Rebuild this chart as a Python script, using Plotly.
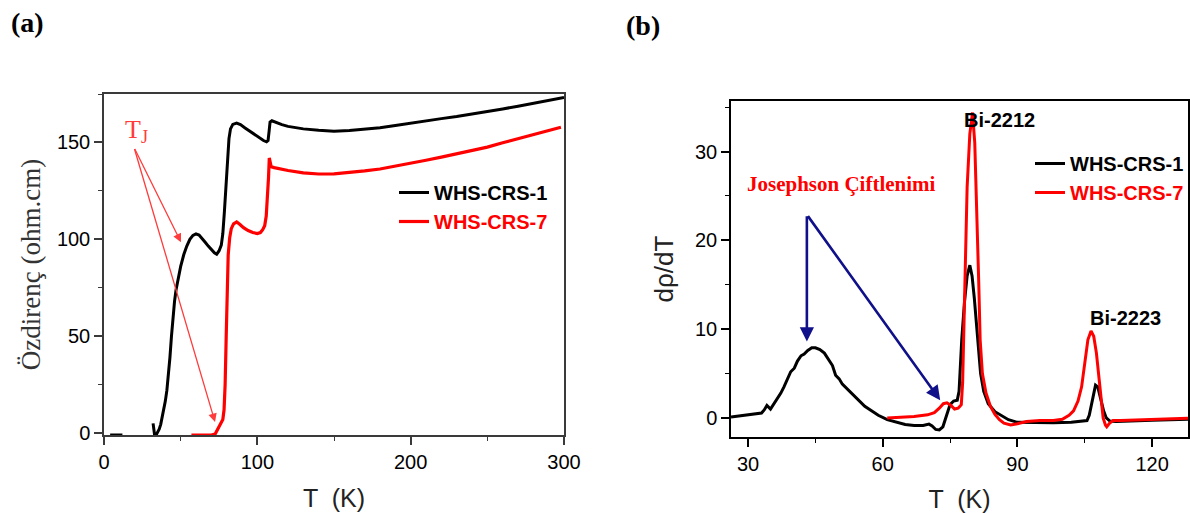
import plotly.graph_objects as go

# ---------------- data: panel (a) resistivity vs temperature ----------------
T_a1 = [4, 12, None, 32, 32.5, 33, 34, 35, 36, 37, 38, 39, 40, 41, 42, 43, 44, 45, 46, 47, 48, 49, 50,
        51, 52, 54, 56, 58, 60, 62, 64, 66, 68, 70, 72, 73.5, 75, 76.5, 77.5, 78.5, 79.5, 80.5, 81.5,
        82.5, 84, 86.5, 89, 92, 95, 98, 101, 104, 106, 107, 107.7, 108.3, 109.5, 112, 116, 120, 125,
        130, 140, 150, 160, 170, 180, 190, 200, 210, 220, 230, 240, 250, 260, 270, 280, 290, 300]
R_a1 = [-1, -1, None, 5, 0, -1, -1, 0.5, 2, 4.5, 8, 12, 16.5, 22, 30, 39, 50, 60, 68, 74, 78.5, 82.5, 86,
        89, 92, 96.5, 100, 102, 102.8, 102.2, 100.5, 98.5, 96.5, 94.5, 93, 92.3, 94, 97, 103, 114, 128,
        143, 152, 157, 159.3, 160, 159.2, 157.5, 155.8, 154, 152.5, 151, 150.3, 151, 156, 160.5, 161.2,
        160.3, 159.2, 158.3, 157.5, 157, 156.3, 155.8, 156.2, 156.8, 157.6, 158.7, 160, 161.2, 162.3,
        163.4, 164.6, 165.9, 167.3, 168.7, 170.1, 171.6, 173.2]

T_a7 = [57, 65, 70, 72.5, 74, 76, 77.5, 78.3, 79, 79.7, 80.3, 81, 82, 83, 84.5, 86.5, 88.5, 91, 94, 97,
        100, 102, 103.5, 104.8, 105.8, 106.6, 107.3, 107.8, 108.3, 109, 111, 115, 120, 130, 140, 150,
        160, 170, 180, 190, 200, 210, 220, 230, 240, 250, 260, 270, 280, 290, 298]
R_a7 = [-1, -1, -1, -0.5, 2, 4.5, 7, 12, 25, 50, 75, 92, 101, 105.5, 108, 109, 107.8, 106, 104.5, 103.5,
        103, 103.5, 105, 107, 112, 120, 132, 142, 140.5, 137.5, 137, 136.3, 135.5, 134.3, 133.7, 133.8,
        134.4, 135.3, 136.3, 137.7, 139.2, 140.8, 142.4, 144, 145.8, 147.6, 149.8, 151.8, 153.8, 155.8,
        157.8]

# ---------------- data: panel (b) d(rho)/dT vs temperature ----------------
T_b1 = [26.2, 28, 30, 32, 33, 33.6, 34.2, 35, 35.8, 36.5, 37.3, 38, 38.8, 39.5, 40.3, 41, 41.8, 42.5,
        43.3, 44.2, 45, 46, 47, 48, 48.8, 49.5, 50.3, 51, 52, 53, 54, 55, 56, 57.5, 59, 61, 63, 65, 67,
        69, 70.3, 71, 71.8, 72.6, 73.4, 74.2, 75, 75.8, 76.6, 77.0, 77.6, 78.2, 78.8, 79.4, 79.9, 80.4,
        81.1, 81.8, 82.5, 83.5, 85, 86.5, 88, 90, 94, 98, 102, 104.5, 105.5, 106.0, 106.5, 107.0, 107.4,
        107.9, 108.5, 109.2, 109.8, 110.6, 112, 116, 120, 124, 128]
D_b1 = [0.1, 0.2, 0.35, 0.5, 0.55, 0.9, 1.4, 1.0, 1.6, 2.2, 2.8, 3.5, 4.4, 5.2, 5.6, 6.4, 7.0, 7.2,
        7.6, 7.9, 7.9, 7.7, 7.3, 6.6, 5.9, 4.8, 4.4, 3.8, 3.3, 2.7, 2.2, 1.7, 1.3, 0.8, 0.3, -0.2, -0.5,
        -0.75, -0.85, -0.85, -0.7, -0.9, -1.3, -1.35, -1.0, 0.2, 1.5, 1.9, 2.0, 3.0, 8.8, 13, 16, 17.2,
        16.0, 13.5, 8.8, 5.0, 3.0, 1.6, 0.7, 0.2, -0.2, -0.5, -0.55, -0.55, -0.5, -0.4, -0.3, 0.3, 1.5,
        3.0, 3.7, 3.5, 2.3, 0.8, 0.0, -0.35, -0.4, -0.3, -0.25, -0.2, -0.15]

T_b7 = [61, 64, 67, 70, 71.5, 72.6, 73.5, 74.3, 75.2, 76, 76.8, 77.2, 77.5, 77.8, 78.0, 78.3, 78.8,
        79.4, 80.0, 80.5, 81.0, 81.4, 81.7, 82.2, 83, 84, 85, 86, 87, 88.5, 90, 92, 95, 98, 100, 101.5,
        102.5, 103.5, 104.3, 105, 105.7, 106.4, 107, 107.6, 108.2, 108.7, 109.1, 109.6, 109.9, 110.5,
        111.3, 113, 116, 120, 124, 128]
D_b7 = [0.0, 0.05, 0.15, 0.35, 0.6, 1.1, 1.6, 1.7, 1.4, 1.0, 1.1, 1.3, 1.5, 4.0, 8.8, 18, 26, 32, 34.4,
        31, 23, 15, 8.8, 5.0, 2.8, 1.3, 0.4, -0.2, -0.6, -0.8, -0.65, -0.4, -0.3, -0.3, -0.15, 0.3, 0.8,
        1.9, 3.5, 6.0, 8.8, 9.8, 9.2, 7.3, 4.5, 2.0, 0.0, -0.8, -1.0, -0.6, -0.3, -0.3, -0.25, -0.2, -0.1,
        -0.05]

names = ["WHS-CRS-1", "WHS-CRS-7"]

# annotation anchor values (data units)
tj_label = (21, 156)
tj_start = (19.6, 147.4)
tj_ends = [(50.2, 98.5), (72.4, 5.7)]
jo_label = (50.9, 26.4)
jo_start = (43.1, 22.9)
jo_ends = [(43.1, 8.6), (72.8, 2.0)]
bi2212_label = (86.1, 33.6)
bi2223_label = (114.0, 11.3)

W, H = 1190, 513
RED = "#ff0000"
SANS = "Liberation Sans"
SERIF = "Liberation Serif"

fig = go.Figure()
fig.add_trace(go.Scatter(x=T_a1, y=R_a1, mode="lines", line=dict(color="black", width=3),
                         name="<b>%s</b>" % names[0], legend="legend", xaxis="x", yaxis="y"))
fig.add_trace(go.Scatter(x=T_a7, y=R_a7, mode="lines", line=dict(color=RED, width=3.2),
                         name='<b><span style="color:#ff0000">%s</span></b>' % names[1],
                         legend="legend", xaxis="x", yaxis="y"))
fig.add_trace(go.Scatter(x=T_b1, y=D_b1, mode="lines", line=dict(color="black", width=3),
                         name="<b>%s</b>" % names[0], legend="legend2", xaxis="x2", yaxis="y2"))
fig.add_trace(go.Scatter(x=T_b7, y=D_b7, mode="lines", line=dict(color=RED, width=3),
                         name='<b><span style="color:#ff0000">%s</span></b>' % names[1],
                         legend="legend2", xaxis="x2", yaxis="y2"))


def axis(linecolor, dtick, minor_dtick, title, title_font, standoff, rng, domain, anchor):
    return dict(
        domain=domain, range=rng, anchor=anchor, automargin=False,
        showline=True, mirror=True, linecolor=linecolor, linewidth=1.5,
        ticks="outside", ticklen=8, tickwidth=1.5, tickcolor=linecolor,
        dtick=dtick, tick0=0,
        minor=dict(ticks="outside", ticklen=4, tickwidth=1.2, tickcolor=linecolor, dtick=minor_dtick),
        showgrid=False, zeroline=False,
        tickfont=dict(family=SANS, size=20, color="black"),
        title=dict(text=title, font=title_font, standoff=standoff),
    )


fig.update_layout(
    width=W, height=H, margin=dict(l=0, r=0, t=0, b=0, autoexpand=False),
    paper_bgcolor="white", plot_bgcolor="white", showlegend=True,
    xaxis=axis("#3a3a3a", 100, 50, "T  (K)", dict(family=SANS, size=25, color="#222"), 18,
               [0, 300], [104 / W, 564 / W], "y"),
    yaxis=axis("#3a3a3a", 50, 25, "Özdirenç (ohm.cm)", dict(family=SERIF, size=27, color="#333"), 8,
               [-1, 175], [1 - 435 / H, 1 - 94 / H], "x"),
    xaxis2=axis("black", 30, 15, "T  (K)", dict(family=SANS, size=25, color="#222"), 18,
                [26.2, 128], [731 / W, 1188 / W], "y2"),
    yaxis2=axis("black", 10, 5, "dρ/dT", dict(family=SANS, size=26, color="#222"), 14,
                [-2.15, 35.7], [1 - 437 / H, 1 - 101 / H], "x2"),
    legend=dict(x=394 / W, y=1 - 173 / H, xanchor="left", yanchor="top", bgcolor="rgba(0,0,0,0)",
                font=dict(family=SANS, size=20, color="black"), tracegroupgap=0, itemwidth=30),
    legend2=dict(x=1030 / W, y=1 - 144 / H, xanchor="left", yanchor="top", bgcolor="rgba(0,0,0,0)",
                 font=dict(family=SANS, size=20, color="black"), tracegroupgap=0, itemwidth=30),
)

ann = []
ann.append(dict(text="<b>(a)</b>", x=9 / W, y=1 - 23 / H, xref="paper", yref="paper",
                xanchor="left", yanchor="middle", showarrow=False,
                font=dict(family=SERIF, size=28, color="black")))
ann.append(dict(text="<b>(b)</b>", x=624 / W, y=1 - 25 / H, xref="paper", yref="paper",
                xanchor="left", yanchor="middle", showarrow=False,
                font=dict(family=SERIF, size=28, color="black")))
ann.append(dict(text="T<sub>J</sub>", x=tj_label[0], y=tj_label[1], xref="x", yref="y",
                showarrow=False, font=dict(family=SERIF, size=26, color="#ff3b3b")))
for ex, ey in tj_ends:
    ann.append(dict(text="", x=ex, y=ey, ax=tj_start[0], ay=tj_start[1], xref="x", yref="y",
                    axref="x", ayref="y", showarrow=True, arrowhead=2, arrowsize=1.3,
                    arrowwidth=1.3, arrowcolor="#ff3b3b"))
ann.append(dict(text="<b>Josephson Çiftlenimi</b>", x=jo_label[0], y=jo_label[1], xref="x2", yref="y2",
                showarrow=False, font=dict(family=SERIF, size=21, color=RED)))
for ex, ey in jo_ends:
    ann.append(dict(text="", x=ex, y=ey, ax=jo_start[0], ay=jo_start[1], xref="x2", yref="y2",
                    axref="x2", ayref="y2", showarrow=True, arrowhead=2, arrowsize=1.1,
                    arrowwidth=2.6, arrowcolor="#10108a"))
ann.append(dict(text="<b>Bi-2212</b>", x=bi2212_label[0], y=bi2212_label[1], xref="x2", yref="y2",
                showarrow=False, font=dict(family=SANS, size=20, color="black")))
ann.append(dict(text="<b>Bi-2223</b>", x=bi2223_label[0], y=bi2223_label[1], xref="x2", yref="y2",
                showarrow=False, font=dict(family=SANS, size=20, color="black")))
fig.update_layout(annotations=ann)

fig.write_html("out.html")
